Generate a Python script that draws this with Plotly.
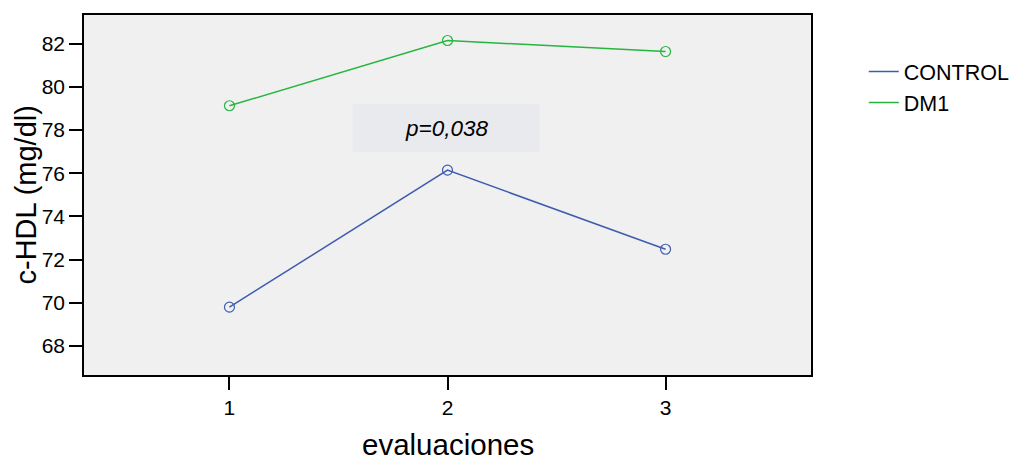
import plotly.graph_objects as go

evaluaciones = [1, 2, 3]
control = [69.8, 76.14, 72.48]
dm1 = [79.12, 82.14, 81.63]
y_ticks = [68, 70, 72, 74, 76, 78, 80, 82]

BLUE = "#3e5bb0"
GREEN = "#26b53f"
FONT = "Liberation Sans, Arial, sans-serif"

fig = go.Figure()
for name, vals, col in [("CONTROL", control, BLUE), ("DM1", dm1, GREEN)]:
    fig.add_trace(go.Scatter(x=evaluaciones, y=vals, name=name, mode="lines+markers",
                             showlegend=False, legendgroup=name,
                             line=dict(color=col, width=1.5),
                             marker=dict(symbol="circle-open", size=10, color=col, line=dict(width=1.2))))
for name, col in [("CONTROL", BLUE), ("DM1", GREEN)]:
    fig.add_trace(go.Scatter(x=[None], y=[None], name=name, mode="lines", legendgroup=name,
                             line=dict(color=col, width=1.5)))

fig.add_shape(type="rect", xref="x", yref="y", x0=1.564, x1=2.422, y0=76.98, y1=79.21,
              fillcolor="#e9eaed", line=dict(width=0), layer="below")
fig.add_annotation(x=1.995, y=78.05, xref="x", yref="y", text="<i>p=0,038</i>", showarrow=False,
                   font=dict(family=FONT, size=22.5, color="black"))

# axis titles
fig.add_annotation(x=0.5, y=0, xref="paper", yref="paper", yshift=-86.5, text="evaluaciones",
                   showarrow=False, xanchor="center", yanchor="bottom", borderpad=0,
                   font=dict(family=FONT, size=29.5, color="black"))
fig.add_annotation(x=0, y=0.5, xref="paper", yref="paper", xshift=-58.5, text="c-HDL (mg/dl)",
                   showarrow=False, xanchor="center", yanchor="middle", textangle=-90,
                   font=dict(family=FONT, size=29, color="black"))

fig.update_layout(
    width=1015, height=462,
    margin=dict(l=83.5, r=204, t=14.5, b=87),
    paper_bgcolor="white", plot_bgcolor="#f0f0f0",
    font=dict(family=FONT, color="black"),
    showlegend=True,
    legend=dict(xref="container", yref="container", x=0.851, y=0.8896, xanchor="left", yanchor="top",
                font=dict(size=21.5), bgcolor="rgba(0,0,0,0)", tracegroupgap=0, itemwidth=30),
    xaxis=dict(range=[0.333, 3.667], tickvals=evaluaciones, ticks="outside", ticklen=13, tickwidth=1.5,
               tickcolor="black", showgrid=False, zeroline=False, showline=True, linecolor="black",
               linewidth=1.5, mirror=True, tickfont=dict(size=21), automargin=False),
    yaxis=dict(range=[66.66, 83.32], tickvals=y_ticks, ticks="outside", ticklen=13, tickwidth=1.5,
               tickcolor="black", showgrid=False, zeroline=False, showline=True, linecolor="black",
               linewidth=1.5, mirror=True, tickfont=dict(size=21), automargin=False),
)

fig.write_html("out.html")
